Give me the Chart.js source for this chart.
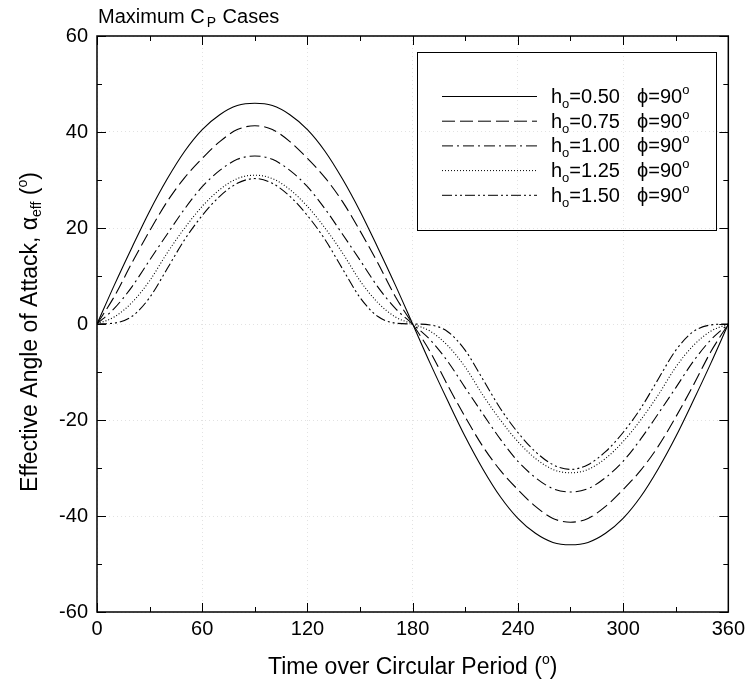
<!DOCTYPE html>
<html>
<head>
<meta charset="utf-8">
<script src="https://cdn.jsdelivr.net/npm/chart.js@4.4.1/dist/chart.umd.min.js"></script>
<style>
  html, body { margin: 0; padding: 0; background: #fff; }
</style>
</head>
<body>
<canvas id="chart" width="750" height="684"></canvas>
<script>
// time over circular period (deg)
const timeDeg = [0, 10, 20, 30, 40, 50, 60, 70, 80, 90, 100, 110, 120, 130, 140, 150, 160, 170, 180,
  190, 200, 210, 220, 230, 240, 250, 260, 270, 280, 290, 300, 310, 320, 330, 340, 350, 360];

// effective angle of attack (deg)
const alphaH050 = [0, 8.2, 16, 23.5, 30.2, 36, 40.5, 43.6, 45.5, 46, 45.5, 43.6, 40.5, 36, 30.2, 23.5, 16, 8.2, 0,
  -8.2, -16, -23.5, -30.2, -36, -40.5, -43.6, -45.5, -46, -45.5, -43.6, -40.5, -36, -30.2, -23.5, -16, -8.2, 0];
const alphaH075 = [0, 5.8, 12.8, 19.4, 25.5, 30.5, 34.5, 38, 40.5, 41.3, 40.5, 38, 34.5, 30.5, 25.5, 19.4, 12.8, 5.8, 0,
  -5.8, -12.8, -19.4, -25.5, -30.5, -34.5, -38, -40.5, -41.3, -40.5, -38, -34.5, -30.5, -25.5, -19.4, -12.8, -5.8, 0];
const alphaH100 = [0, 3.3, 7.8, 13.3, 18.7, 24, 28.6, 32, 34.3, 35, 34.3, 32, 28.6, 24, 18.7, 13.3, 7.8, 3.3, 0,
  -3.3, -7.8, -13.3, -18.7, -24, -28.6, -32, -34.3, -35, -34.3, -32, -28.6, -24, -18.7, -13.3, -7.8, -3.3, 0];
const alphaH125 = [0, 1.5, 4.5, 9, 14.8, 20, 24.5, 28, 30.3, 31, 30.3, 28, 24.5, 20, 14.8, 9, 4.5, 1.5, 0,
  -1.5, -4.5, -9, -14.8, -20, -24.5, -28, -30.3, -31, -30.3, -28, -24.5, -20, -14.8, -9, -4.5, -1.5, 0];
const alphaH150 = [0, 0.2, 1.6, 5.5, 11.5, 17.6, 22.6, 26.6, 29.3, 30.3, 29.3, 26.6, 22.6, 17.6, 11.5, 5.5, 1.6, 0.2, 0,
  -0.2, -1.6, -5.5, -11.5, -17.6, -22.6, -26.6, -29.3, -30.3, -29.3, -26.6, -22.6, -17.6, -11.5, -5.5, -1.6, -0.2, 0];

const hLabels = ['0.50', '0.75', '1.00', '1.25', '1.50'];
const phaseLabel = '90';
const xTicks = [0, 60, 120, 180, 240, 300, 360];
const yTicks = [-60, -40, -20, 0, 20, 40, 60];

const FONT = '"Liberation Sans", Arial, sans-serif';
const dashes = [[], [13, 5], [11, 4, 2, 4], [1, 2], [10, 3, 2, 3, 2, 3]];
const series = [alphaH050, alphaH075, alphaH100, alphaH125, alphaH150];

const datasets = series.map((vals, i) => ({
  label: 'h=' + hLabels[i],
  data: timeDeg.map((t, k) => ({ x: t, y: vals[k] })),
  borderColor: '#000',
  borderWidth: 1.1,
  borderDash: dashes[i],
  pointRadius: 0,
  fill: false,
  cubicInterpolationMode: 'monotone'
}));

// 有上下標的文字
function richWidth(ctx, parts) {
  let w = 0;
  parts.forEach(p => { ctx.font = p.s + 'px ' + FONT; w += ctx.measureText(p.t).width + (p.dx || 0); });
  return w;
}
function drawRich(ctx, parts, x, y) {
  parts.forEach(p => {
    x += p.dx || 0;
    ctx.font = p.s + 'px ' + FONT;
    ctx.fillText(p.t, x, y + (p.dy || 0));
    x += ctx.measureText(p.t).width;
  });
}

const decorPlugin = {
  id: 'decor',
  afterDraw(chart) {
    const ctx = chart.ctx;
    const a = chart.chartArea;
    const xs = chart.scales.x, ys = chart.scales.y;
    ctx.save();
    ctx.fillStyle = '#000';
    ctx.strokeStyle = '#000';
    ctx.setLineDash([]);

    // frame
    ctx.lineWidth = 1.5;
    ctx.strokeRect(a.left, a.top, a.right - a.left, a.bottom - a.top);

    // inward ticks
    ctx.lineWidth = 1;
    ctx.beginPath();
    for (let t = 0; t <= 360; t += 30) {
      const px = Math.round(xs.getPixelForValue(t)) + 0.5;
      const len = t % 60 === 0 ? 9 : 5;
      ctx.moveTo(px, a.bottom); ctx.lineTo(px, a.bottom - len);
      ctx.moveTo(px, a.top); ctx.lineTo(px, a.top + len);
    }
    for (let v = -60; v <= 60; v += 10) {
      const py = Math.round(ys.getPixelForValue(v)) + 0.5;
      const len = v % 20 === 0 ? 9 : 5;
      ctx.moveTo(a.left, py); ctx.lineTo(a.left + len, py);
      ctx.moveTo(a.right, py); ctx.lineTo(a.right - len, py);
    }
    ctx.stroke();

    // title
    ctx.textAlign = 'left';
    ctx.textBaseline = 'alphabetic';
    drawRich(ctx, [{ t: 'Maximum C', s: 20 }, { t: 'P', s: 14, dy: 4, dx: 2 }, { t: ' Cases', s: 20, dx: 1 }], a.left + 1, 23);

    // x axis title
    const xt = [{ t: 'Time over Circular Period (', s: 23 }, { t: 'o', s: 14, dy: -10 }, { t: ')', s: 23 }];
    drawRich(ctx, xt, (a.left + a.right) / 2 - richWidth(ctx, xt) / 2, 674);

    // y axis title
    const yt = [{ t: 'Effective Angle of Attack, \u03b1', s: 23 }, { t: 'eff', s: 14, dy: 4 },
      { t: ' (', s: 23 }, { t: 'o', s: 14, dy: -10 }, { t: ')', s: 23 }];
    ctx.save();
    ctx.translate(37, 332);
    ctx.rotate(-Math.PI / 2);
    drawRich(ctx, yt, -richWidth(ctx, yt) / 2, 0);
    ctx.restore();

    // legend box
    ctx.lineWidth = 1;
    ctx.strokeRect(417.5, 52.5, 299, 178);
    datasets.forEach((ds, i) => {
      const yb = 103 + i * 24.7;
      ctx.setLineDash(ds.borderDash);
      ctx.beginPath();
      ctx.moveTo(442, yb - 6.5);
      ctx.lineTo(537, yb - 6.5);
      ctx.stroke();
      ctx.setLineDash([]);
      drawRich(ctx, [{ t: 'h', s: 20 }, { t: 'o', s: 13, dy: 5 }, { t: '=' + hLabels[i], s: 20 }], 551, yb);
      drawRich(ctx, [{ t: '\u03d5=' + phaseLabel, s: 20 }, { t: 'o', s: 13, dy: -9 }], 637, yb);
    });
    ctx.restore();
  }
};

window.addEventListener('load', function () {
  const ctx = document.getElementById('chart').getContext('2d');
  new Chart(ctx, {
    type: 'line',
    data: { datasets: datasets },
    options: {
      responsive: false,
      animation: false,
      devicePixelRatio: 1,
      layout: { padding: { top: 36, right: 20, left: 0, bottom: 0 } },
      plugins: { legend: { display: false }, tooltip: { enabled: false } },
      scales: {
        x: {
          type: 'linear', min: 0, max: 360,
          afterBuildTicks: s => { s.ticks = xTicks.map(v => ({ value: v })); },
          afterFit: s => { s.height = 72; },
          ticks: { color: '#000', font: { size: 20, family: FONT }, padding: 5, maxRotation: 0 },
          grid: { color: '#e2e2e2', lineWidth: 1, drawTicks: false },
          border: { display: false, dash: [1, 3] }
        },
        y: {
          type: 'linear', min: -60, max: 60,
          afterBuildTicks: s => { s.ticks = yTicks.map(v => ({ value: v })); },
          afterFit: s => { s.width = 97; },
          ticks: { color: '#000', font: { size: 20, family: FONT }, padding: 9 },
          grid: { color: '#e2e2e2', lineWidth: 1, drawTicks: false },
          border: { display: false, dash: [1, 3] }
        }
      }
    },
    plugins: [decorPlugin]
  });
});
</script>
</body>
</html>
